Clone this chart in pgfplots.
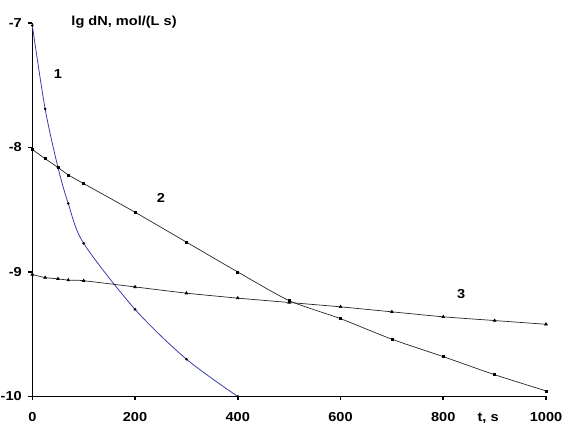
\documentclass[border=0pt]{standalone}
\usepackage{fontspec}
\setmainfont{Liberation Sans}[FakeStretch=1.12]
\usepackage{pgfplots}
\pgfplotsset{compat=1.18}
\definecolor{cblue}{RGB}{60,60,175}
\begin{document}
\begin{tikzpicture}[x=1pt,y=1pt]
\useasboundingbox (0,0) rectangle (576,435);
\begin{axis}[
  at={(32.3pt,38.5pt)}, anchor=south west,
  width=513.7pt, height=373.5pt, scale only axis,
  xmin=0, xmax=1000, ymin=-10, ymax=-7,
  axis x line*=bottom, axis y line*=left,
  axis line style={line width=1.6pt, -},
  xtick={0,200,400,600,800,1000},
  ytick={-10,-9,-8,-7},
  yticklabels={-10,-9,-8,-7},
  xticklabels={0,200,400,600,800,1000},
  tick align=outside, tick pos=left,
  major tick length=4pt,
  tick style={line width=1.6pt, black},
  tick label style={font=\fontsize{13}{15}\selectfont\bfseries},
  xticklabel style={yshift=-8pt},
  yticklabel style={xshift=-3pt},
  clip=false,
]
\addplot[cblue, line width=0.8pt, smooth, tension=0.5, mark=*, mark size=0.9pt,
  mark options={black, fill=black}] coordinates {
  (0,-7.02) (25,-7.69) (50,-8.16) (70,-8.45) (100,-8.77) (200,-9.30) (300,-9.70) (400,-10.0)};
\addplot[black!85, line width=0.7pt, smooth, tension=0.4, mark=square*, mark size=1.0pt,
  mark options={black, fill=black}] coordinates {
  (0,-8.015) (25,-8.09) (50,-8.16) (70,-8.22) (100,-8.29) (200,-8.52) (300,-8.76) (400,-9.00)
  (500,-9.23) (600,-9.375) (700,-9.54) (800,-9.68) (900,-9.825) (1000,-9.955)};
\addplot[black!85, line width=0.7pt, smooth, tension=0.4, mark=triangle*, mark size=1.5pt,
  mark options={black, fill=black}] coordinates {
  (0,-9.02) (25,-9.045) (50,-9.055) (70,-9.065) (100,-9.07) (200,-9.12) (300,-9.17) (400,-9.21)
  (500,-9.245) (600,-9.28) (700,-9.32) (800,-9.36) (900,-9.39) (1000,-9.42)};
\node[font=\fontsize{13}{15}\selectfont\bfseries] at (axis cs:50,-7.41) {1};
\node[font=\fontsize{13}{15}\selectfont\bfseries] at (axis cs:250.6,-8.406) {2};
\node[font=\fontsize{13}{15}\selectfont\bfseries] at (axis cs:834.9,-9.177) {3};
\node[font=\fontsize{13}{15}\selectfont\bfseries] at (axis cs:178.6,-6.99) {lg dN, mol/(L s)};
\node[font=\fontsize{13}{15}\selectfont\bfseries] at (axis cs:887.4,-10.173) {t, s};
\end{axis}
\end{tikzpicture}
\end{document}
